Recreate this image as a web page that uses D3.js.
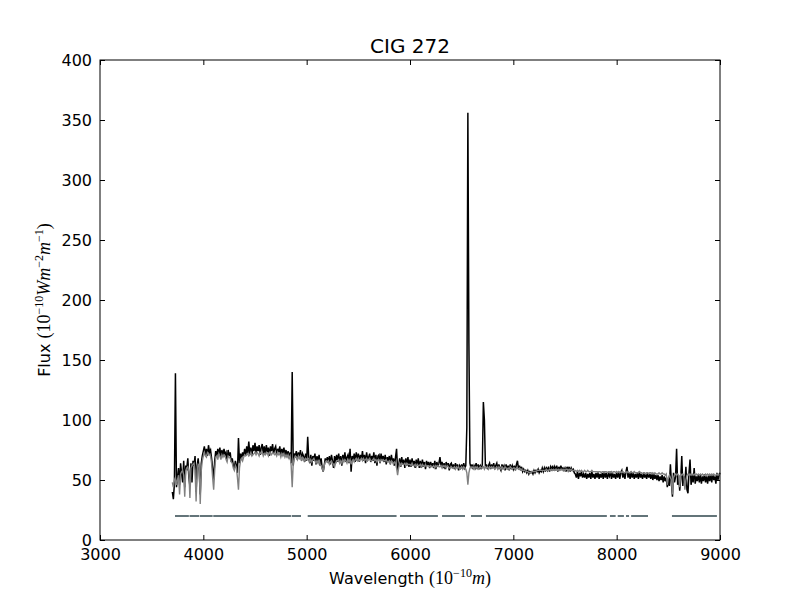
<!DOCTYPE html>
<html>
<head>
<meta charset="utf-8">
<script src="https://cdn.jsdelivr.net/npm/d3@7/dist/d3.min.js"></script>
<style>
  body { margin: 0; background: #fff; }
  svg { display: block; }
</style>
</head>
<body>
<svg id="spectrum"></svg>
<script>
// observed and model spectra, sampled every 10 Angstrom from 3700 to 9000
const startWave = 3700, waveStep = 10;

const observedFlux = [
  40, 34, 47, 139, 44, 52, 60, 46, 64, 55,
  48, 66, 44, 62, 60, 68, 52, 45, 64, 48,
  66, 62, 70, 40, 62, 68, 58, 38, 64, 70,
  74, 78, 71, 76, 70, 79, 73, 75, 68, 60,
  50, 66, 74, 70, 76, 71, 77, 69, 75, 70,
  76, 71, 73, 66, 75, 70, 73, 65, 68, 62,
  60, 66, 62, 56, 85, 64, 72, 68, 73, 70,
  76, 70, 78, 72, 82, 71, 77, 70, 79, 74,
  81, 72, 78, 74, 79, 71, 77, 80, 72, 78,
  71, 79, 73, 77, 70, 78, 74, 80, 72, 76,
  78, 71, 76, 73, 78, 70, 76, 72, 77, 70,
  75, 69, 74, 68, 73, 64, 140, 62, 72, 70,
  74, 67, 73, 69, 75, 66, 72, 70, 65, 72,
  66, 86, 68, 64, 71, 62, 70, 66, 72, 63,
  70, 64, 71, 62, 68, 60, 57, 62, 68, 65,
  69, 64, 70, 63, 71, 66, 60, 70, 64, 71,
  65, 72, 64, 70, 62, 71, 66, 73, 65, 69,
  71, 64, 76, 57, 70, 66, 72, 65, 73, 66,
  72, 65, 71, 67, 74, 66, 71, 64, 73, 67,
  69, 72, 65, 70, 66, 73, 64, 71, 62, 70,
  71, 64, 72, 66, 70, 65, 71, 63, 69, 66,
  70, 63, 71, 65, 68, 62, 69, 76, 58, 62,
  68, 61, 69, 63, 67, 60, 68, 62, 69, 61,
  67, 61, 68, 62, 66, 60, 67, 62, 68, 60,
  66, 60, 67, 61, 65, 59, 66, 62, 65, 60,
  65, 61, 64, 60, 66, 59, 65, 61, 64, 69,
  62, 65, 60, 64, 59, 65, 61, 64, 58, 63,
  64, 60, 63, 59, 64, 60, 63, 58, 62, 60,
  63, 59, 64, 60, 62, 94, 356, 164, 64, 60,
  63, 59, 62, 60, 64, 59, 63, 60, 62, 59,
  63, 115, 100, 60, 63, 59, 62, 64, 59, 63,
  60, 64, 59, 62, 64, 59, 63, 60, 58, 63,
  60, 62, 58, 63, 59, 62, 58, 63, 59, 62,
  59, 62, 58, 63, 66, 59, 62, 58, 61, 57,
  59, 57, 58, 56, 58, 55, 57, 56, 57, 55,
  58, 56, 58, 57, 59, 56, 58, 57, 60, 57,
  60, 57, 61, 58, 60, 57, 61, 59, 62, 58,
  61, 58, 62, 57, 61, 58, 62, 59, 60, 58,
  60, 57, 61, 58, 61, 57, 60, 58, 59, 56,
  55, 52, 57, 51, 56, 53, 57, 52, 55, 52,
  56, 51, 55, 52, 56, 51, 57, 52, 55, 51,
  56, 52, 57, 51, 55, 52, 56, 51, 57, 52,
  56, 51, 55, 53, 57, 51, 56, 52, 55, 51,
  56, 52, 57, 51, 56, 58, 52, 56, 51, 57,
  61, 52, 56, 51, 57, 52, 56, 51, 55, 52,
  56, 51, 57, 52, 55, 51, 56, 52, 55, 51,
  56, 52, 55, 51, 56, 50, 55, 51, 54, 50,
  54, 49, 53, 50, 54, 48, 53, 49, 52, 44,
  51, 45, 63, 47, 36, 56, 48, 53, 76, 46,
  54, 41, 51, 70, 45, 53, 47, 61, 42, 39,
  56, 67, 46, 54, 48, 60, 47, 53, 49, 55,
  48, 54, 47, 53, 49, 55, 48, 53, 47, 54,
  49, 54, 48, 55, 50, 53, 47, 56, 50, 54,
  56
];

const modelFlux = [
  48, 44, 50, 52, 46, 50, 54, 38, 55, 57,
  58, 54, 36, 58, 60, 61, 57, 35, 60, 62,
  63, 64, 58, 32, 58, 63, 62, 30, 58, 66,
  70, 73, 70, 69, 73, 72, 71, 70, 64, 52,
  42, 58, 69, 70, 67, 72, 70, 67, 71, 69,
  71, 70, 67, 65, 70, 69, 68, 65, 64, 60,
  58, 62, 60, 52, 42, 60, 66, 68, 66, 69,
  71, 70, 71, 72, 70, 71, 73, 70, 71, 72,
  73, 71, 73, 72, 70, 73, 72, 73, 70, 72,
  71, 73, 72, 70, 73, 72, 71, 73, 72, 71,
  72, 70, 73, 71, 72, 69, 72, 70, 72, 69,
  71, 69, 71, 68, 70, 62, 44, 64, 68, 70,
  69, 67, 70, 68, 70, 67, 69, 68, 66, 68,
  67, 68, 68, 65, 67, 65, 67, 68, 66, 64,
  66, 64, 67, 63, 62, 60, 57, 62, 65, 66,
  65, 66, 63, 65, 66, 64, 63, 61, 64, 66,
  66, 67, 64, 66, 64, 67, 65, 67, 66, 64,
  67, 65, 67, 63, 66, 67, 65, 67, 68, 66,
  68, 66, 67, 68, 66, 68, 66, 67, 68, 66,
  67, 68, 66, 66, 67, 68, 66, 67, 65, 67,
  67, 65, 67, 66, 67, 66, 66, 67, 65, 65,
  66, 64, 66, 65, 63, 65, 64, 60, 54, 60,
  64, 62, 64, 63, 63, 64, 62, 64, 63, 63,
  63, 62, 64, 62, 62, 63, 61, 63, 62, 62,
  63, 61, 63, 62, 61, 63, 61, 62, 62, 61,
  62, 61, 61, 62, 60, 62, 61, 62, 61, 61,
  62, 60, 62, 61, 62, 60, 62, 61, 60, 60,
  61, 60, 60, 61, 59, 61, 60, 61, 59, 60,
  61, 59, 61, 60, 59, 56, 46, 56, 60, 61,
  60, 61, 59, 61, 60, 61, 59, 60, 61, 60,
  60, 61, 59, 61, 60, 61, 59, 61, 60, 61,
  60, 61, 59, 60, 61, 59, 61, 60, 59, 61,
  60, 59, 61, 60, 59, 60, 59, 61, 60, 59,
  60, 60, 59, 60, 60, 59, 60, 59, 59, 58,
  58, 58, 57, 57, 57, 56, 56, 56, 57, 57,
  57, 57, 57, 58, 58, 58, 58, 58, 58, 58,
  58, 58, 59, 58, 58, 59, 58, 59, 58, 59,
  58, 59, 59, 58, 59, 58, 59, 59, 58, 59,
  58, 59, 59, 58, 59, 58, 59, 58, 58, 58,
  58, 57, 58, 57, 58, 57, 58, 57, 57, 58,
  57, 57, 58, 57, 57, 57, 58, 57, 57, 57,
  57, 57, 56, 57, 57, 56, 57, 57, 56, 57,
  57, 56, 57, 57, 56, 57, 56, 57, 57, 56,
  57, 56, 57, 56, 57, 56, 57, 56, 56, 57,
  56, 57, 56, 56, 57, 56, 56, 57, 56, 56,
  56, 56, 57, 56, 56, 55, 56, 56, 55, 56,
  56, 55, 56, 56, 55, 56, 55, 56, 55, 55,
  55, 56, 55, 55, 56, 55, 55, 54, 55, 46,
  52, 54, 52, 50, 38, 52, 54, 55, 54, 55,
  54, 44, 55, 54, 55, 54, 42, 50, 54, 55,
  54, 55, 54, 55, 54, 55, 54, 55, 54, 55,
  54, 55, 54, 55, 54, 54, 55, 54, 55, 54,
  55, 54, 55, 54, 55, 54, 54, 55, 54, 55,
  54
];

// wavelength ranges of the good-pixel mask, drawn at a constant level
const maskRanges = [
  [3726, 3860], [3866, 3958], [3964, 4090], [4096, 4848], [4855, 4945],
  [5010, 5870], [5903, 6270], [6310, 6532], [6590, 6697], [6735, 7905],
  [7935, 7990], [8010, 8070], [8090, 8120], [8140, 8303], [8535, 8970]
];
const maskLevel = 20;

const xTicks = [3000, 4000, 5000, 6000, 7000, 8000, 9000];
const yTicks = [0, 50, 100, 150, 200, 250, 300, 350, 400];

const width = 800, height = 600, margin = { top: 60, right: 80, bottom: 60, left: 100 };
const sansFont = "'DejaVu Sans', sans-serif";
const mathFont = "'Liberation Serif', 'DejaVu Serif', serif";

const svg = d3.select("#spectrum")
    .attr("width", width)
    .attr("height", height);

const xScale = d3.scaleLinear()
    .domain([3000, 9000])
    .range([margin.left, width - margin.right]);

const yScale = d3.scaleLinear()
    .domain([0, 400])
    .range([height - margin.bottom, margin.top]);

const waveAt = i => startWave + i * waveStep;

const line = d3.line()
    .x((_, i) => xScale(waveAt(i)))
    .y(d => yScale(d));

const plot = svg.append("g");

// observed spectrum in black, model in grey on top
plot.append("path")
    .datum(observedFlux)
    .attr("fill", "none")
    .attr("stroke", "#000")
    .attr("stroke-width", 1.5)
    .attr("d", line);

plot.append("path")
    .datum(modelFlux)
    .attr("fill", "none")
    .attr("stroke", "#808080")
    .attr("stroke-width", 1.4)
    .attr("d", line);

plot.selectAll(".mask")
    .data(maskRanges)
    .enter()
    .append("line")
    .attr("class", "mask")
    .attr("x1", d => xScale(d[0]))
    .attr("x2", d => xScale(d[1]))
    .attr("y1", yScale(maskLevel))
    .attr("y2", yScale(maskLevel))
    .attr("stroke", "#637479")
    .attr("stroke-width", 2);

// axes with inward ticks on all four sides
function styleAxis(g) {
    g.select(".domain").remove();
    g.selectAll(".tick line").attr("stroke", "#000");
    g.selectAll(".tick text")
        .attr("fill", "#000")
        .style("font-family", sansFont)
        .style("font-size", "16px");
}

const intFormat = d3.format("d");

svg.append("g")
    .attr("transform", `translate(0,${height - margin.bottom})`)
    .call(d3.axisBottom(xScale).tickValues(xTicks).tickFormat(intFormat).tickSize(-5).tickPadding(9))
    .call(styleAxis);

svg.append("g")
    .attr("transform", `translate(0,${margin.top})`)
    .call(d3.axisTop(xScale).tickValues(xTicks).tickSize(-5).tickFormat(""))
    .call(styleAxis);

svg.append("g")
    .attr("transform", `translate(${margin.left},0)`)
    .call(d3.axisLeft(yScale).tickValues(yTicks).tickFormat(intFormat).tickSize(-5).tickPadding(8))
    .call(styleAxis);

svg.append("g")
    .attr("transform", `translate(${width - margin.right},0)`)
    .call(d3.axisRight(yScale).tickValues(yTicks).tickSize(-5).tickFormat(""))
    .call(styleAxis);

svg.append("rect")
    .attr("x", margin.left)
    .attr("y", margin.top)
    .attr("width", width - margin.left - margin.right)
    .attr("height", height - margin.top - margin.bottom)
    .attr("fill", "none")
    .attr("stroke", "#000")
    .attr("stroke-width", 1);

// title
svg.append("text")
    .attr("x", (margin.left + width - margin.right) / 2)
    .attr("y", 53)
    .attr("text-anchor", "middle")
    .style("font-family", sansFont)
    .style("font-size", "20px")
    .text("CIG 272");

// x label: Wavelength (10^-10 m)
const xLabel = svg.append("text")
    .attr("x", (margin.left + width - margin.right) / 2)
    .attr("y", 584)
    .attr("text-anchor", "middle")
    .style("font-family", sansFont)
    .style("font-size", "16px");
xLabel.append("tspan").text("Wavelength ");
xLabel.append("tspan").style("font-family", mathFont).style("font-size", "18px").text("(10");
xLabel.append("tspan").attr("dy", -7).style("font-family", mathFont).style("font-size", "12px").text("\u221210");
xLabel.append("tspan").attr("dy", 7).style("font-family", mathFont).style("font-size", "18px")
    .style("font-style", "italic").text("m");
xLabel.append("tspan").style("font-family", mathFont).style("font-size", "18px").text(")");

// y label: Flux (10^-10 W m^-2 m^-1)
const yLabel = svg.append("text")
    .attr("transform", "translate(50,300) rotate(-90)")
    .attr("text-anchor", "middle")
    .style("font-family", sansFont)
    .style("font-size", "16px");
yLabel.append("tspan").text("Flux ");
yLabel.append("tspan").style("font-family", mathFont).style("font-size", "18px").text("(10");
yLabel.append("tspan").attr("dy", -7).style("font-family", mathFont).style("font-size", "12px").text("\u221210");
yLabel.append("tspan").attr("dy", 7).style("font-family", mathFont).style("font-size", "18px")
    .style("font-style", "italic").text("Wm");
yLabel.append("tspan").attr("dy", -7).style("font-family", mathFont).style("font-size", "12px").text("\u22122");
yLabel.append("tspan").attr("dy", 7).style("font-family", mathFont).style("font-size", "18px")
    .style("font-style", "italic").text("m");
yLabel.append("tspan").attr("dy", -7).style("font-family", mathFont).style("font-size", "12px").text("\u22121");
yLabel.append("tspan").attr("dy", 7).style("font-family", mathFont).style("font-size", "18px").text(")");
</script>
</body>
</html>
